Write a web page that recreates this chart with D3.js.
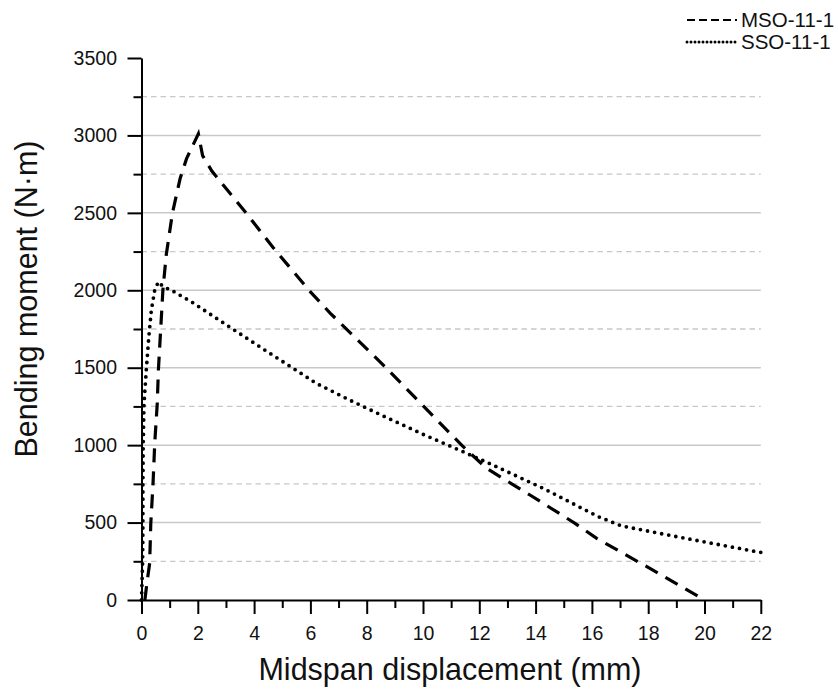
<!DOCTYPE html>
<html>
<head>
<meta charset="utf-8">
<script src="https://cdn.jsdelivr.net/npm/d3@7"></script>
<style>
  html, body { margin: 0; padding: 0; background: #fff; }
  svg { display: block; font-family: "Liberation Sans", Arial, sans-serif; }
</style>
</head>
<body>
<svg id="chart" width="838" height="696"></svg>
<script>
// ---- data ----
const seriesNames = ["MSO-11-1", "SSO-11-1"];
const msoX = [0.12, 0.2, 0.29, 0.33, 0.41, 0.47, 0.56, 0.6, 0.68, 0.76, 0.88, 1.1, 1.37, 1.6, 2.02, 2.17, 2.5, 3.05, 3.68, 4.68, 6.0, 6.7, 8.59, 11.4, 12.26, 13.8, 15.4, 16.17, 18.0, 20.0];
const msoY = [0, 120, 237, 495, 753, 1011, 1270, 1485, 1743, 2001, 2230, 2500, 2720, 2850, 3010, 2870, 2770, 2647, 2507, 2275, 1990, 1853, 1517, 995, 850, 678, 495, 398, 210, 0];
const ssoX = [0.0, 0.04, 0.05, 0.05, 0.06, 0.09, 0.17, 0.26, 0.35, 0.47, 0.6, 0.77, 1.06, 1.77, 3.03, 4.5, 5.45, 6.2, 7.52, 8.77, 10.0, 11.43, 12.5, 14.27, 16.23, 17.06, 19.01, 21.85, 22.0];
const ssoY = [0, 250, 500, 750, 1000, 1270, 1485, 1700, 1872, 2001, 2055, 2023, 2001, 1926, 1775, 1600, 1489, 1400, 1280, 1173, 1070, 957, 870, 721, 538, 478, 409, 312, 308];
const xTicks = [0, 2, 4, 6, 8, 10, 12, 14, 16, 18, 20, 22];
const xMinorTicks = [1, 3, 5, 7, 9, 11, 13, 15, 17, 19, 21];
const yTicks = [0, 500, 1000, 1500, 2000, 2500, 3000, 3500];
const yMinorTicks = [250, 750, 1250, 1750, 2250, 2750, 3250];
const xTitle = "Midspan displacement (mm)";
const yTitle = "Bending moment (N\u00B7m)";

// ---- layout ----
const svg = d3.select("#chart");
const x = d3.scaleLinear().domain([0, 22]).range([141.5, 760.8]);
const y = d3.scaleLinear().domain([0, 3500]).range([600, 58]);

// grid
const grid = svg.append("g");
grid.selectAll("line.major").data(yTicks.filter(d => d > 0 && d < 3500)).join("line")
  .attr("x1", x(0)).attr("x2", x(22))
  .attr("y1", d => y(d)).attr("y2", d => y(d))
  .attr("stroke", "#c8c8c8").attr("stroke-width", 1.5);
grid.selectAll("line.minor").data(yMinorTicks).join("line")
  .attr("x1", x(0)).attr("x2", x(22))
  .attr("y1", d => y(d)).attr("y2", d => y(d))
  .attr("stroke", "#c8c8c8").attr("stroke-width", 1.3)
  .attr("stroke-dasharray", "5.5,4");

// axes
const tickFont = 19.5;
const gx = svg.append("g").attr("transform", `translate(0,${y(0)})`);
gx.call(d3.axisBottom(x).tickValues(xTicks).tickSize(14).tickSizeOuter(0).tickFormat(d3.format("d")));
const gxm = svg.append("g").attr("transform", `translate(0,${y(0)})`);
gxm.call(d3.axisBottom(x).tickValues(xMinorTicks).tickSize(8).tickSizeOuter(0).tickFormat(""));
gxm.select(".domain").remove();
gx.selectAll("text").attr("y", 40).attr("dy", 0)
  .attr("font-size", tickFont).attr("fill", "#111").attr("font-family", "Liberation Sans, Arial, sans-serif");

const gy = svg.append("g").attr("transform", `translate(${x(0)},0)`);
gy.call(d3.axisLeft(y).tickValues(yTicks).tickSize(14).tickSizeOuter(0).tickPadding(10.5).tickFormat(d3.format("d")));
const gym = svg.append("g").attr("transform", `translate(${x(0)},0)`);
gym.call(d3.axisLeft(y).tickValues(yMinorTicks).tickSize(8).tickSizeOuter(0).tickFormat(""));
gym.select(".domain").remove();
gy.selectAll("text").attr("font-size", tickFont).attr("fill", "#111").attr("font-family", "Liberation Sans, Arial, sans-serif");

svg.selectAll(".domain").attr("stroke", "#000").attr("stroke-width", 2);
svg.selectAll(".tick line").attr("stroke", "#000").attr("stroke-width", 2);

// titles
svg.append("text").attr("x", 450).attr("y", 680).attr("text-anchor", "middle")
  .attr("font-size", 30.5).attr("fill", "#111").text(xTitle);
svg.append("text").attr("transform", "translate(37,299) rotate(-90)").attr("text-anchor", "middle")
  .attr("font-size", 30.5).attr("fill", "#111").text(yTitle);

// series
const line = d3.line().x(d => x(d[0])).y(d => y(d[1]));
const mso = d3.zip(msoX, msoY);
const sso = d3.zip(ssoX, ssoY);
svg.append("path").datum(mso).attr("d", line)
  .attr("fill", "none").attr("stroke", "#000").attr("stroke-width", 3.2)
  .attr("stroke-dasharray", "14,9");
svg.append("path").datum(sso).attr("d", line)
  .attr("fill", "none").attr("stroke", "#000").attr("stroke-width", 3.8)
  .attr("stroke-linecap", "round").attr("stroke-dasharray", "0,7.2");

// legend
const leg = svg.append("g");
const legStyles = [
  { dash: "8,4", cap: "butt", w: 2 },
  { dash: "0,4", cap: "round", w: 3 }
];
seriesNames.forEach((name, i) => {
  const cy = 20 + i * 22;
  leg.append("line").attr("x1", 687).attr("x2", 737).attr("y1", cy).attr("y2", cy)
    .attr("stroke", "#000").attr("stroke-width", legStyles[i].w)
    .attr("stroke-linecap", legStyles[i].cap).attr("stroke-dasharray", legStyles[i].dash);
  leg.append("text").attr("x", 741).attr("y", cy).attr("dy", "0.35em")
    .attr("font-size", 20.5).attr("fill", "#111").text(name);
});
</script>
</body>
</html>
